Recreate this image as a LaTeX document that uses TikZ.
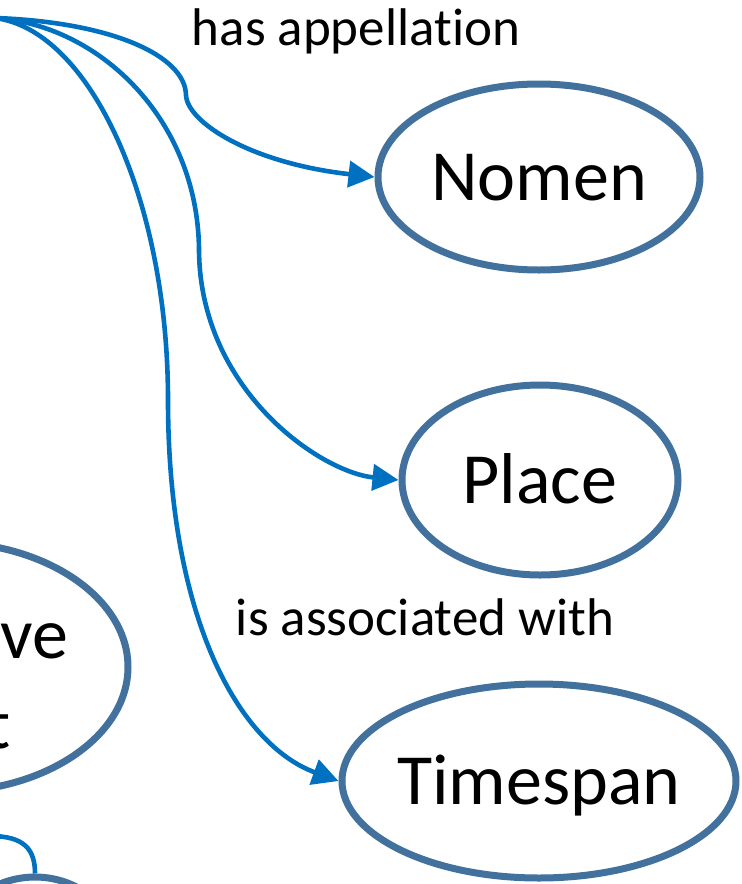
\documentclass[tikz,border=0pt]{standalone}
\usepackage{fontspec}
\setmainfont{Carlito}[Ligatures=NoCommon]
\usepackage{tikz}
\usetikzlibrary{calc,positioning,shapes.geometric,arrows.meta}
\definecolor{linkblue}{HTML}{0070C0}
\definecolor{classborder}{HTML}{41719C}

\begin{document}
\begin{tikzpicture}[x=0.5pt, y=-0.5pt, >={Triangle[length=13pt,width=13pt]},
      class/.style={ellipse, draw=classborder, line width=3.5pt, fill=white, inner sep=0pt, inner xsep=-10pt, text height=23pt, text depth=0pt, font=\fontsize{36}{45}\selectfont},
      classtext/.style={inner sep=0pt, font=\fontsize{36}{45}\selectfont},
      link/.style={draw=linkblue, line width=2.3pt},
      property/.style={inner sep=0pt, font=\fontsize{26.5}{32}\selectfont}]
      \clip (0,0) rectangle (742,884);
      \node[class, minimum width=161pt, minimum height=93pt] (nomen) at (539,177) {Nomen};
      \node[class, minimum width=138pt, minimum height=95pt] (place) at (540,480) {Place};
      \node[class, minimum width=197pt, minimum height=97pt] (timespan) at (539,781) {Timespan};
      \node[class, minimum width=184pt, minimum height=125pt] (leftobj) at (-56,667) {};
      \node[classtext, anchor=base east] (lefttxta) at (69,658) {ve};
      \node[classtext, anchor=base east] (lefttxtb) at (11,748) {t};
      \node[class, minimum width=91pt, minimum height=91pt] (lowobj) at (35,968) {};
      % sources lie left of the cut
      \coordinate (src) at (-5,18);
      \coordinate (lowsrc) at (-10,836);
      \draw[link,->] (src) .. controls (110,22) and (185,55) .. (186,95) .. controls (187,122) and (250,163) .. (nomen.west);
      \draw[link,->] (src) .. controls (100,25) and (198,120) .. (199,250) .. controls (200,390) and (320,472) .. (place.west);
      \draw[link,->] (src) .. controls (90,30) and (168,200) .. (168,400) .. controls (168,620) and (240,745) .. (timespan.west);
      \draw[link] (lowsrc) .. controls (25,836) and (35,850) .. (lowobj.north);
      \node[property, anchor=base] (hasappel) at (356,45) {has appellation};
      \node[property, anchor=base] (isassoc) at (425,635) {is associated with};
\end{tikzpicture}
\end{document}
